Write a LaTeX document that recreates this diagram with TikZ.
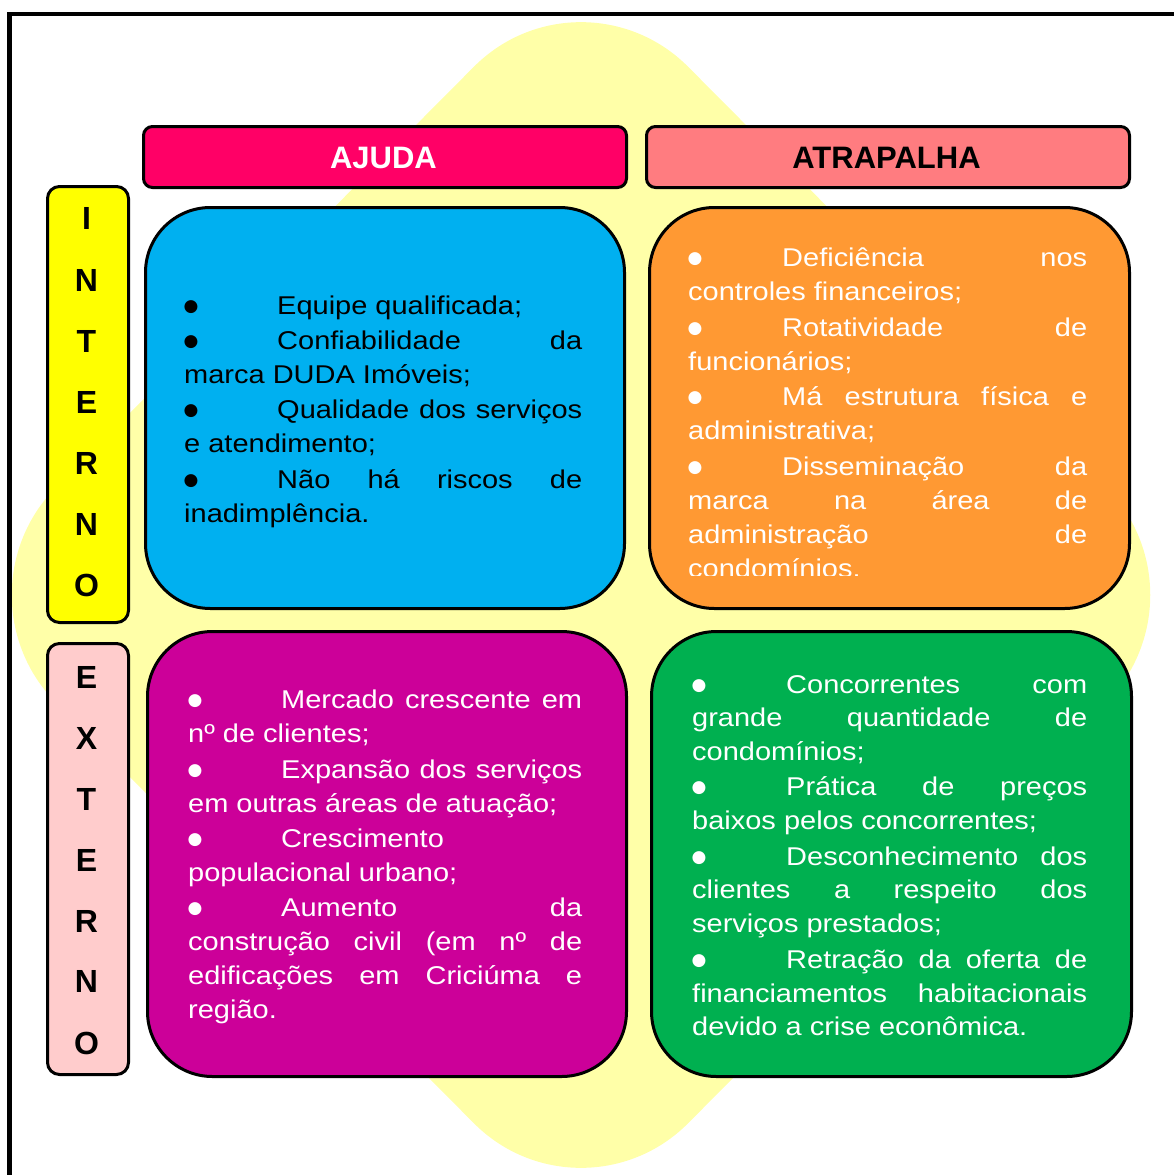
\documentclass[tikz,border=0pt]{standalone}
\usepackage{fontspec}
\setmainfont{Liberation Sans}
\newfontfamily\bodyfont[FakeStretch=1.128]{Liberation Sans}
\newfontfamily\dejavu{DejaVu Sans}
\definecolor{bgyellow}{HTML}{FFFFA8}
\definecolor{cajuda}{HTML}{FF0066}
\definecolor{catrap}{HTML}{FF7C80}
\definecolor{cint}{HTML}{FFFF00}
\definecolor{cext}{HTML}{FFCCCC}
\definecolor{cblue}{HTML}{00B0F0}
\definecolor{corange}{HTML}{FF9933}
\definecolor{cmag}{HTML}{CC0099}
\definecolor{cgreen}{HTML}{00B050}
\newcommand\jus[2]{\hbox to #1pt{#2}}
\begin{document}
\begin{tikzpicture}[x=1pt,y=-1pt,
  frameline/.style={line width=4.5pt, line join=miter},
  hdr/.style={draw=black, line width=3pt, rounded corners=9pt, anchor=north west, inner sep=0},
  sidebox/.style={draw=black, line width=3pt, rounded corners=12pt, anchor=north west, inner sep=0},
  quad/.style={draw=black, line width=3pt, rounded corners=65pt, anchor=north west, inner sep=0},
  hdrtxt/.style={font=\fontsize{31}{31}\selectfont\bfseries, inner sep=0, anchor=center},
  sidetxt/.style={font=\fontsize{32}{32}\selectfont\bfseries, inner sep=0, anchor=center},
  txt/.style={font=\bodyfont\fontsize{25.7}{30}\selectfont, anchor=base west, inner sep=0},
  bul/.style={font=\dejavu\fontsize{17}{17}\selectfont, anchor=center, inner sep=0, xshift=6pt, yshift=-7pt}]
\useasboundingbox (0,0) rectangle (1173,1175);
% background shape
\fill[bgyellow, rounded corners=152pt] (265,277) -- (581,-41) -- (1213,595) -- (581,1231) -- (-51,595) -- cycle;
% frame
\draw[frameline] (9.5,1180) -- (9.5,14) -- (1180,14);
% headers
\node[hdr, fill=cajuda, minimum width=483pt, minimum height=61pt] (hajuda) at (142,125) {};
\node[hdr, fill=catrap, minimum width=483pt, minimum height=61pt] (hatrap) at (645,125) {};
\node[hdrtxt, text=white] (tajuda) at (383.5,158) {AJUDA};
\node[hdrtxt, text=black] (tatrap) at (886.5,158) {ATRAPALHA};
% side boxes
\node[sidebox, fill=cint, minimum width=81pt, minimum height=436pt] (sint) at (46,185) {};
\node[sidebox, fill=cext, minimum width=81pt, minimum height=431pt] (sext) at (46,642) {};
\foreach \l/\yy [count=\i] in {I/218.5,N/280,T/341,E/402,R/463,N/524,O/585}
  \node[sidetxt] (li\i) at (86.5,\yy) {\l};
\foreach \l/\yy [count=\i] in {E/677.5,X/738,T/799,E/860,R/921,N/981.5,O/1043}
  \node[sidetxt] (le\i) at (86.5,\yy) {\l};
% quadrants
\node[quad, fill=cblue, minimum width=479pt, minimum height=401pt] (qblue) at (144,206) {};
\node[quad, fill=corange, minimum width=480pt, minimum height=401pt] (qorange) at (648,206) {};
\node[quad, fill=cmag, minimum width=479pt, minimum height=445pt] (qmag) at (146,630) {};
\node[quad, fill=cgreen, minimum width=480pt, minimum height=445pt] (qgreen) at (650,630) {};
% blue text
\begin{scope}[every node/.append style={text=black}]
\node[bul] (bb1) at (185,300) {●};
\node[txt] (b1) at (277,314) {Equipe qualificada;};
\node[bul] (bb2) at (185,335) {●};
\node[txt] (b2) at (277,349) {\jus{305}{Confiabilidade\hfill da}};
\node[txt] (b3) at (184,383) {marca DUDA Imóveis;};
\node[bul] (bb3) at (185,404) {●};
\node[txt] (b4) at (277,418) {\jus{305}{Qualidade\hfill dos\hfill serviços}};
\node[txt] (b5) at (184,452) {e atendimento;};
\node[bul] (bb4) at (185,474) {●};
\node[txt] (b6) at (277,488) {\jus{305}{Não\hfill há\hfill riscos\hfill de}};
\node[txt] (b7) at (184,522) {inadimplência.};
\end{scope}
% orange text
\begin{scope}[every node/.append style={text=white}]
\node[bul] (ob1) at (689,252) {●};
\node[txt] (o1) at (782,266) {\jus{305}{Deficiência\hfill nos}};
\node[txt] (o2) at (688,300) {controles financeiros;};
\node[bul] (ob2) at (689,322) {●};
\node[txt] (o3) at (782,336) {\jus{305}{Rotatividade\hfill de}};
\node[txt] (o4) at (688,370) {funcionários;};
\node[bul] (ob3) at (689,391) {●};
\node[txt] (o5) at (782,405) {\jus{305}{Má\hfill estrutura\hfill física\hfill e}};
\node[txt] (o6) at (688,439) {administrativa;};
\node[bul] (ob4) at (689,461) {●};
\node[txt] (o7) at (782,475) {\jus{305}{Disseminação\hfill da}};
\node[txt] (o8) at (688,509) {\jus{399}{marca\hfill na\hfill área\hfill de}};
\node[txt] (o9) at (688,543) {\jus{399}{administração\hfill de}};
\begin{scope}
\clip (640,540) rectangle (1130,575.5);
\node[txt] (o10) at (688,577) {condomínios.};
\end{scope}
\end{scope}
% magenta text
\begin{scope}[every node/.append style={text=white}]
\node[bul] (mb1) at (189,694) {●};
\node[txt] (m1) at (281,708) {\jus{301}{Mercado\hfill crescente\hfill em}};
\node[txt] (m2) at (188,742) {nº de clientes;};
\node[bul] (mb2) at (189,764) {●};
\node[txt] (m3) at (281,778) {\jus{301}{Expansão\hfill dos\hfill serviços}};
\node[txt] (m4) at (188,812) {em outras áreas de atuação;};
\node[bul] (mb3) at (189,833) {●};
\node[txt] (m5) at (281,847) {Crescimento};
\node[txt] (m6) at (188,881) {populacional urbano;};
\node[bul] (mb4) at (189,902) {●};
\node[txt] (m7) at (281,916) {\jus{301}{Aumento\hfill da}};
\node[txt] (m8) at (188,950) {\jus{394}{construção\hfill civil\hfill (em\hfill nº\hfill de}};
\node[txt] (m9) at (188,984) {\jus{394}{edificações\hfill em\hfill Criciúma\hfill e}};
\node[txt] (m10) at (188,1018) {região.};
\end{scope}
% green text
\begin{scope}[every node/.append style={text=white}]
\node[bul] (gb1) at (693,679) {●};
\node[txt] (g1) at (786,693) {\jus{301}{Concorrentes\hfill com}};
\node[txt] (g2) at (692,726) {\jus{395}{grande\hfill quantidade\hfill de}};
\node[txt] (g3) at (692,760) {condomínios;};
\node[bul] (gb2) at (693,781) {●};
\node[txt] (g4) at (786,795) {\jus{301}{Prática\hfill de\hfill preços}};
\node[txt] (g5) at (692,829) {baixos pelos concorrentes;};
\node[bul] (gb3) at (693,851) {●};
\node[txt] (g6) at (786,865) {\jus{301}{Desconhecimento\hfill dos}};
\node[txt] (g7) at (692,898) {\jus{395}{clientes\hfill a\hfill respeito\hfill dos}};
\node[txt] (g8) at (692,932) {serviços prestados;};
\node[bul] (gb4) at (693,954) {●};
\node[txt] (g9) at (786,968) {\jus{301}{Retração\hfill da\hfill oferta\hfill de}};
\node[txt] (g10) at (692,1002) {\jus{395}{financiamentos\hfill habitacionais}};
\node[txt] (g11) at (692,1035) {devido a crise econômica.};
\end{scope}
\end{tikzpicture}
\end{document}
